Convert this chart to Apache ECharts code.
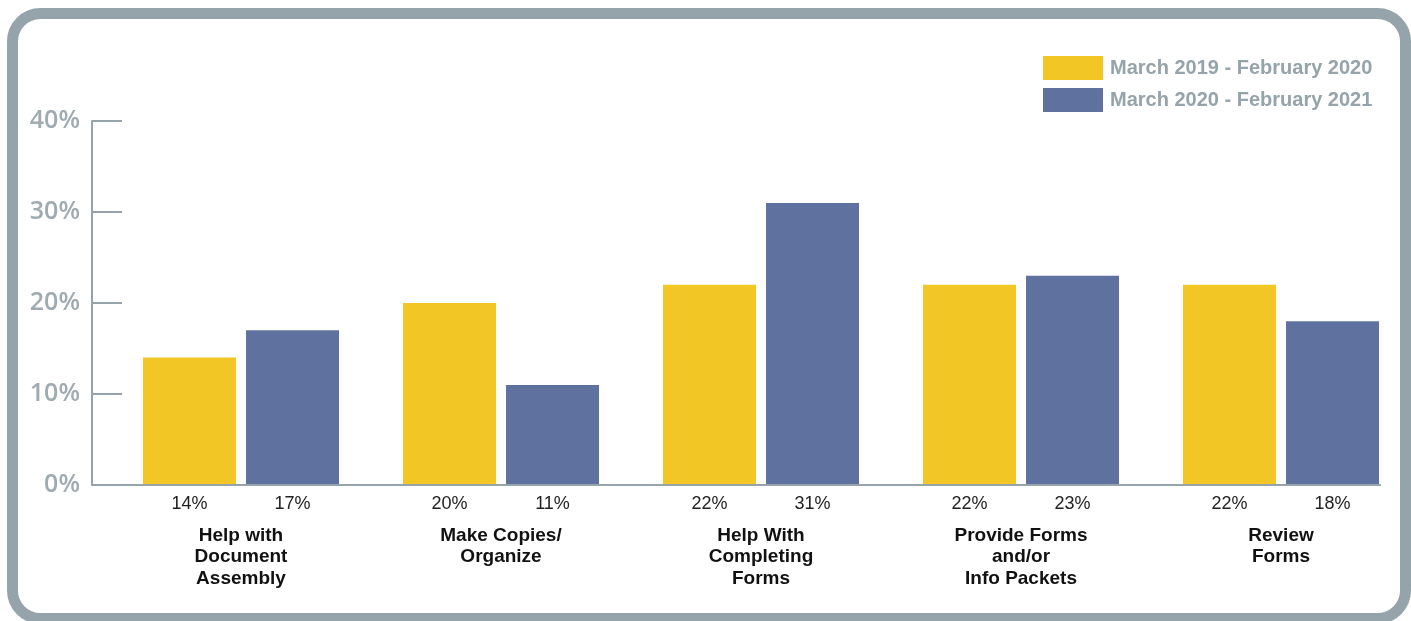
<!DOCTYPE html>
<html>
<head>
<meta charset="utf-8">
<script src="https://cdn.jsdelivr.net/npm/echarts@6/dist/echarts.min.js"></script>
<style>
  html, body { margin: 0; padding: 0; background: #fff; }
  #chart { width: 1411px; height: 621px; }
</style>
</head>
<body>
<div id="chart"></div>
<script>
const categories = [
    'Help with\nDocument\nAssembly',
    'Make Copies/\nOrganize',
    'Help With\nCompleting\nForms',
    'Provide Forms\nand/or\nInfo Packets',
    'Review\nForms'
];
const seriesNames = ['March 2019 - February 2020', 'March 2020 - February 2021'];
const values2019 = [14, 20, 22, 22, 22];
const values2020 = [17, 11, 31, 23, 18];
const yTicks = [0, 10, 20, 30, 40];

const gray = '#95a3aa';
const colors = ['#f2c625', '#5f729f'];

function createChart(elId) {
    const chartDom = document.getElementById(elId);
    const myChart = echarts.init(chartDom);

    const barLabel = {
        show: true,
        position: 'bottom',
        distance: 10,
        formatter: '{c}%',
        color: '#222',
        fontFamily: 'Liberation Sans',
        fontSize: 18
    };

    const option = {
        backgroundColor: '#fff',
        animation: false,
        color: colors,
        legend: {
            orient: 'vertical',
            left: 1043,
            top: 56,
            padding: 0,
            itemWidth: 60,
            itemHeight: 24,
            itemGap: 8,
            icon: 'rect',
            textStyle: {
                color: gray,
                fontFamily: 'Liberation Sans',
                fontWeight: 'bold',
                fontSize: 20,
                padding: [0, 0, 0, 2]
            },
            data: seriesNames
        },
        grid: {
            left: 111,
            width: 1304,
            top: 121,
            bottom: 136,
            containLabel: false
        },
        xAxis: {
            type: 'category',
            data: categories,
            axisLine: { show: false },
            axisTick: { show: false },
            axisLabel: {
                margin: 40,
                color: '#111',
                fontFamily: 'Liberation Sans',
                fontWeight: 'bold',
                fontSize: 19,
                lineHeight: 21.5,
                interval: 0
            }
        },
        yAxis: {
            type: 'value',
            min: yTicks[0],
            max: yTicks[yTicks.length - 1],
            interval: 10,
            offset: 19,
            axisLine: { show: true, lineStyle: { color: gray, width: 2 } },
            axisTick: { show: true, inside: true, length: 30, lineStyle: { color: gray, width: 2 } },
            splitLine: { show: false },
            axisLabel: {
                margin: 12,
                formatter: '{value}%',
                color: '#9eabb1',
                fontFamily: 'Open Sans',
                fontWeight: 600,
                fontSize: 25
            }
        },
        series: [
            {
                name: seriesNames[0],
                type: 'bar',
                data: values2019,
                barWidth: 93,
                barGap: '10.8%',
                label: barLabel
            },
            {
                name: seriesNames[1],
                type: 'bar',
                data: values2020,
                barWidth: 93,
                barGap: '10.8%',
                label: barLabel
            }
        ],
        graphic: [
            {
                type: 'rect',
                z: 100,
                silent: true,
                shape: { x: 12.5, y: 13.5, width: 1393, height: 605, r: 28 },
                style: { fill: null, stroke: gray, lineWidth: 11 }
            },
            {
                // baseline under the bars
                type: 'line',
                z: 100,
                silent: true,
                shape: { x1: 92, y1: 485, x2: 1381, y2: 485 },
                style: { stroke: gray, lineWidth: 2 }
            }
        ]
    };
    myChart.setOption(option);
}

createChart('chart');
</script>
</body>
</html>
